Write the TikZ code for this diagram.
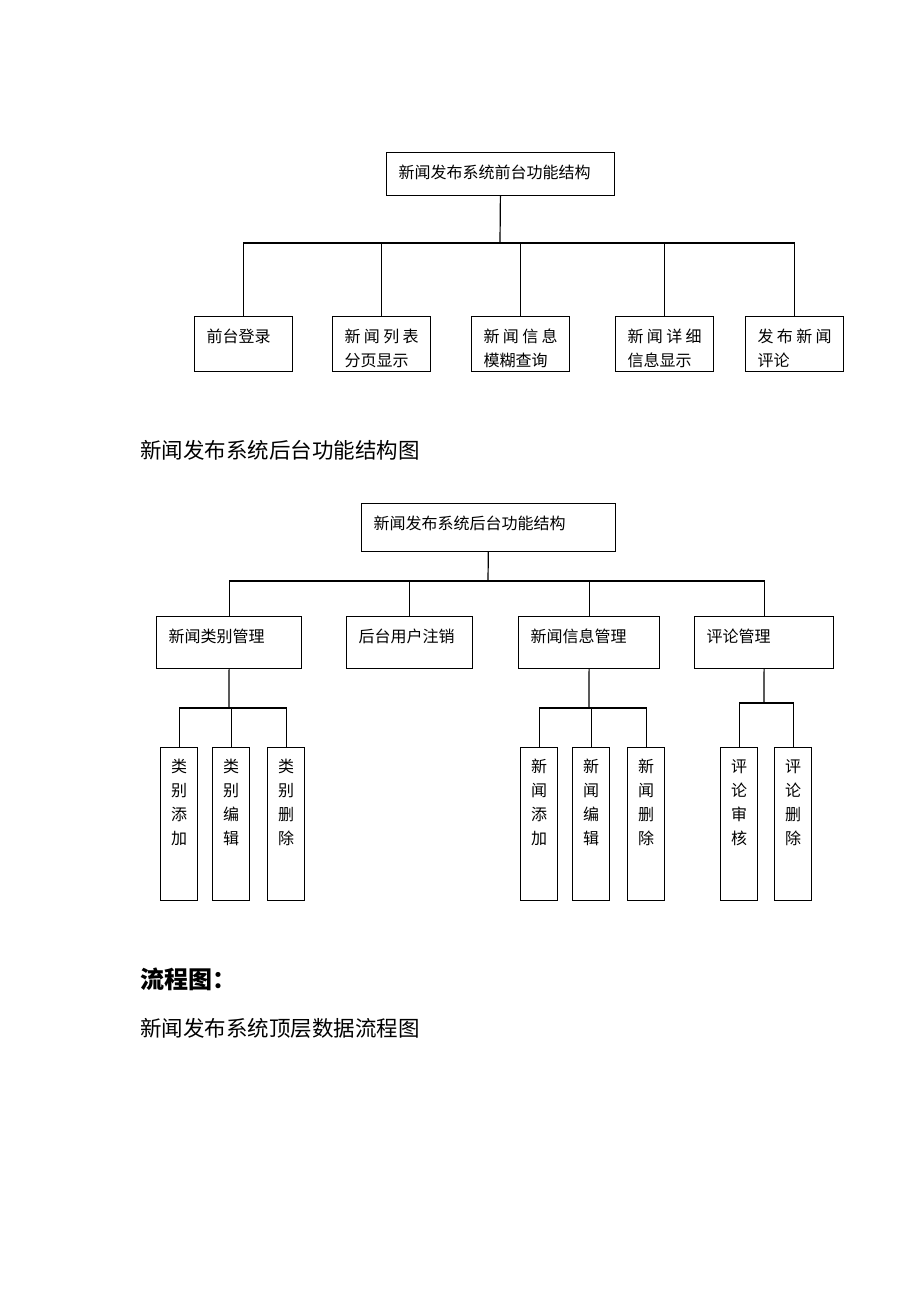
\documentclass[tikz,border=0pt]{standalone}
\usepackage{fontspec}
\setmainfont{Noto Sans CJK SC}
\tikzstyle{link}=[line width=1.2pt]
\tikzset{box/.style 2 args={draw, line width=1.2pt, anchor=north west, align=left,
  inner xsep=12pt, inner ysep=0pt, text width=#1pt-24pt,
  text height=26pt, text depth=#2pt-26pt, font=\fontsize{16pt}{24pt}\selectfont}}
\tikzstyle{tallbox}=[draw, line width=1.2pt, anchor=north west, align=center, inner sep=0pt,
  text width=37pt, text height=25pt, text depth=128pt, font=\fontsize{16pt}{24pt}\selectfont]
\tikzstyle{heading}=[anchor=west, inner sep=0pt, font=\fontsize{21.5pt}{26pt}\selectfont]
\newcommand{\spreadline}[4]{\hbox to \linewidth{#1\hfil #2\hfil #3\hfil #4}}

\begin{document}
\begin{tikzpicture}[x=1pt,y=-1pt]
\useasboundingbox (0,0) rectangle (920,1302);

% front
\node (ftop) at (386,152) [box={228}{43}] {新闻发布系统前台功能结构};
\node (f1) at (194,316) [box={98}{55}] {前台登录};
\node (f2) at (332,316) [box={98}{55}] {\spreadline{新}{闻}{列}{表}\\分页显示};
\node (f3) at (471,316) [box={98}{55}] {\spreadline{新}{闻}{信}{息}\\模糊查询};
\node (f4) at (615,316) [box={98}{55}] {\spreadline{新}{闻}{详}{细}\\信息显示};
\node (f5) at (745,316) [box={98}{55}] {\spreadline{发}{布}{新}{闻}\\评论};
\coordinate (fj) at (500,243);

\draw[link] (ftop) -- (fj);
\draw[link] (f1.north) |- (fj);
\draw[link] (f2.north) |- (fj);
\draw[link] (f3.north) |- (fj);
\draw[link] (f4.north) |- (fj);
\draw[link] (f5.north) |- (fj);

\node (cap1) at (140,450) [heading] {新闻发布系统后台功能结构图};

% back
\node (btop) at (361,503) [box={254}{48}] {新闻发布系统后台功能结构};
\node (b1) at (156,616) [box={145}{52}] {新闻类别管理};
\node (b2) at (346,616) [box={126}{52}] {后台用户注销};
\node (b3) at (518,616) [box={141}{52}] {新闻信息管理};
\node (b4) at (694,616) [box={139}{52}] {评论管理};
\coordinate (bj) at (488,581);

\draw[link] (btop) -- (bj);
\draw[link] (b1.north) |- (bj);
\draw[link] (b2.north) |- (bj);
\draw[link] (b3.north) |- (bj);
\draw[link] (b4.north) |- (bj);

\node (b11) at (160,747) [tallbox] {类\\别\\添\\加};
\node (b12) at (212,747) [tallbox] {类\\别\\编\\辑};
\node (b13) at (267,747) [tallbox] {类\\别\\删\\除};
\node (b31) at (520,747) [tallbox] {新\\闻\\添\\加};
\node (b32) at (572,747) [tallbox] {新\\闻\\编\\辑};
\node (b33) at (627,747) [tallbox] {新\\闻\\删\\除};
\node (b41) at (720,747) [tallbox] {评\\论\\审\\核};
\node (b42) at (774,747) [tallbox] {评\\论\\删\\除};
\coordinate (bj1) at (229,708);
\coordinate (bj3) at (589,708);
\coordinate (bj4) at (764,703);

\draw[link] (b1.south) -- (bj1);
\draw[link] (b11.north) |- (bj1);
\draw[link] (b12.north) |- (bj1);
\draw[link] (b13.north) |- (bj1);
\draw[link] (b3.south) -- (bj3);
\draw[link] (b31.north) |- (bj3);
\draw[link] (b32.north) |- (bj3);
\draw[link] (b33.north) |- (bj3);
\draw[link] (b4.south) -- (bj4);
\draw[link] (b41.north) |- (bj4);
\draw[link] (b42.north) |- (bj4);

\node (cap2) at (140,979) [heading, font=\fontsize{24pt}{28pt}\selectfont\bfseries] {流程图：};
\node (cap3) at (140,1028) [heading] {新闻发布系统顶层数据流程图};
\end{tikzpicture}
\end{document}
